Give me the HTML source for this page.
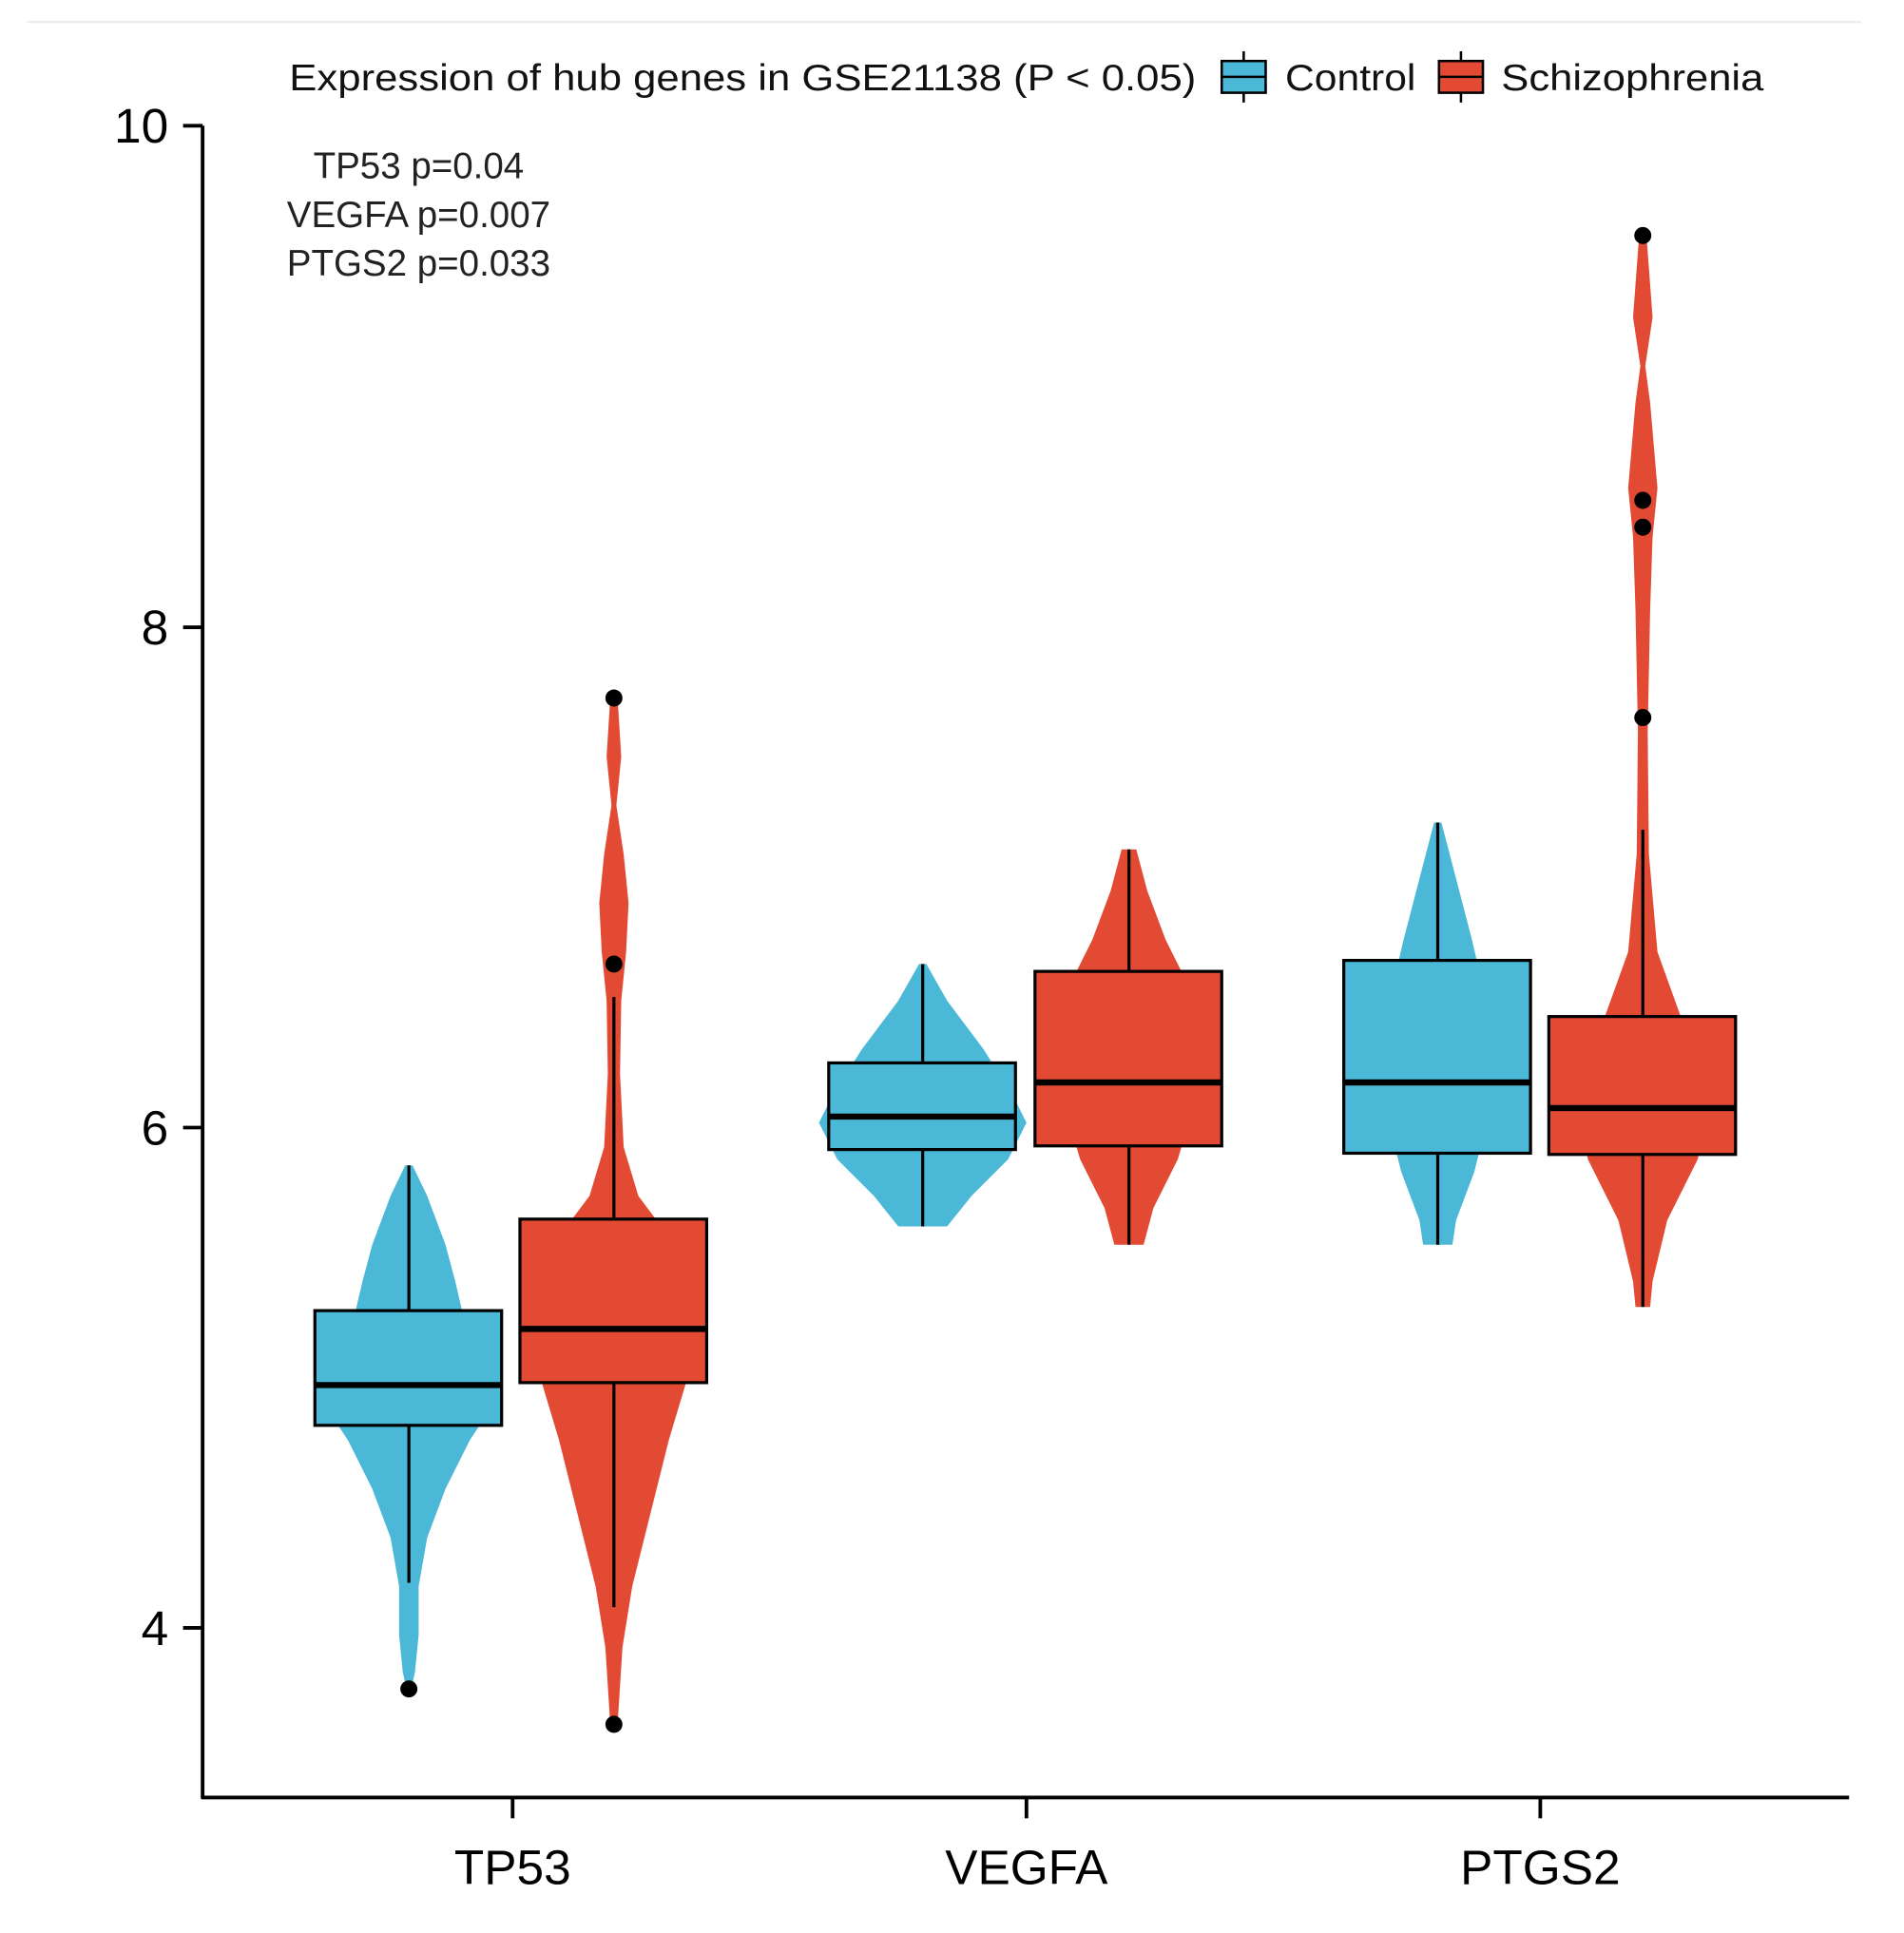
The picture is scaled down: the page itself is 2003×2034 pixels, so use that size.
<!DOCTYPE html>
<html><head><meta charset="utf-8"><style>html,body{margin:0;padding:0;background:#fff}svg{display:block}</style></head>
<body>
<svg id="s" width="2003" height="2034" viewBox="0 0 1560 1584" preserveAspectRatio="none" xmlns="http://www.w3.org/2000/svg" font-family="Liberation Sans, sans-serif">
<rect width="1560" height="1584" fill="#fff"/>
<line x1="22" y1="18" x2="1525" y2="18" stroke="#eee" stroke-width="2"/>
<g id="v"></g>
<g id="b"></g>
<g stroke="#000" stroke-width="3" fill="none">
<line x1="166" y1="103" x2="166" y2="1474"/>
<line x1="165" y1="1473" x2="1515" y2="1473"/>
<line x1="150" y1="103" x2="166" y2="103"/><line x1="150" y1="514" x2="166" y2="514"/>
<line x1="150" y1="924" x2="166" y2="924"/><line x1="150" y1="1334" x2="166" y2="1334"/>
<line x1="420" y1="1473" x2="420" y2="1490"/><line x1="841" y1="1473" x2="841" y2="1490"/><line x1="1262" y1="1473" x2="1262" y2="1490"/>
</g>
<g font-size="40" fill="#000" text-anchor="end">
<text x="138" y="117">10</text><text x="138" y="528">8</text><text x="138" y="938">6</text><text x="138" y="1348">4</text>
</g>
<g font-size="40" fill="#000" text-anchor="middle">
<text x="420" y="1544">TP53</text><text x="841" y="1544">VEGFA</text><text x="1262" y="1544">PTGS2</text>
</g>
<g font-size="30" fill="#222" text-anchor="middle">
<text x="343" y="146">TP53 p=0.04</text><text x="343" y="186">VEGFA p=0.007</text><text x="343" y="226">PTGS2 p=0.033</text>
</g>
<text x="237" y="74" font-size="30" textLength="743" lengthAdjust="spacingAndGlyphs" fill="#111">Expression of hub genes in GSE21138 (P &lt; 0.05)</text>
<g stroke="#000" stroke-width="2">
<line x1="1019" y1="42" x2="1019" y2="84"/><rect x="1001" y="50" width="36" height="26" fill="#4ab8d6"/><line x1="1001" y1="63" x2="1037" y2="63"/>
<line x1="1197" y1="42" x2="1197" y2="84"/><rect x="1179" y="50" width="36" height="26" fill="#e34a33"/><line x1="1179" y1="63" x2="1215" y2="63"/>
</g>
<text x="1053" y="74" font-size="30" textLength="107" lengthAdjust="spacingAndGlyphs" fill="#111">Control</text>
<text x="1230" y="74" font-size="30" textLength="215" lengthAdjust="spacingAndGlyphs" fill="#111">Schizophrenia</text>
</svg>
<script>
var B="#4ab8d6",R="#e34a33";
var V=[
[335,B,[[955,3],[980,15],[1020,30],[1050,38],[1080,45],[1120,60],[1150,70],[1180,50],[1220,30],[1260,15],[1300,8],[1340,8],[1370,5],[1384,2]]],
[503,R,[[572,3],[620,6],[660,2],[700,8],[740,12],[780,10],[820,6],[880,5],[940,8],[980,20],[1020,50],[1080,70],[1130,60],[1180,45],[1240,30],[1300,15],[1350,7],[1413,3]]],
[756,B,[[790,3],[820,20],[860,50],[900,75],[920,85],[950,70],[980,40],[1005,20]]],
[925,R,[[696,6],[730,15],[770,30],[800,45],[860,60],[900,55],[950,40],[990,20],[1020,12]]],
[1178,B,[[674,3],[720,15],[770,28],[800,35],[860,40],[920,40],[960,30],[1000,15],[1020,12]]],
[1346,R,[[193,3],[260,8],[300,2],[330,6],[400,12],[440,8],[500,6],[600,4],[700,5],[780,12],[830,30],[900,55],[950,45],[1000,20],[1050,8],[1071,6]]]];
var BX=[[335,B,955,1074,1135,1168,1297,[1384]],[503,R,817,999,1089,1133,1317,[572,790,1413]],
[756,B,790,871,915,942,1005,[]],[925,R,696,796,887,939,1020,[]],
[1178,B,674,787,887,945,1020,[]],[1346,R,680,833,908,946,1071,[193,410,432,588]]];
var v="",b="";
V.forEach(function(a){var c=a[0],p=a[2],L=[],Rr=[];p.forEach(function(q){Rr.push((c+q[1])+","+q[0]);L.unshift((c-q[1])+","+q[0]);});
v+='<polygon points="'+Rr.join(" ")+" "+L.join(" ")+'" fill="'+a[1]+'"/>';});
BX.forEach(function(a){var c=a[0];
b+='<line x1="'+c+'" y1="'+a[2]+'" x2="'+c+'" y2="'+a[6]+'" stroke="#000" stroke-width="2.5"/>';
b+='<rect x="'+(c-77)+'" y="'+a[3]+'" width="153" height="'+(a[5]-a[3])+'" fill="'+a[1]+'" stroke="#000" stroke-width="2.5"/>';
b+='<line x1="'+(c-77)+'" y1="'+a[4]+'" x2="'+(c+76)+'" y2="'+a[4]+'" stroke="#000" stroke-width="5"/>';
a[7].forEach(function(y){b+='<circle cx="'+c+'" cy="'+y+'" r="7" fill="#000"/>';});});
document.getElementById("v").innerHTML=v;document.getElementById("b").innerHTML=b;
</script>
</body></html>
